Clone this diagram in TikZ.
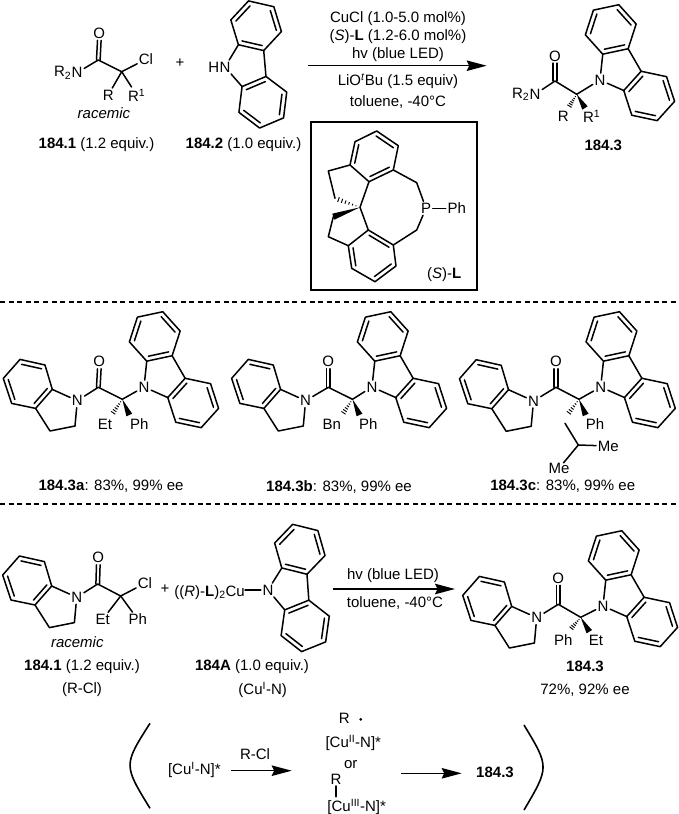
\documentclass[tikz,border=0pt]{standalone}
\usepackage{fontspec}
\setmainfont{Liberation Sans}
\usetikzlibrary{calc,arrows.meta}
\tikzset{
bond/.style={line width=1.5pt,line cap=round,line join=round},
atom/.style={inner sep=1.6pt},
rxn/.style={line width=1.5pt,-{Stealth[length=20pt,width=10.5pt,inset=2.5pt]}},
sep/.style={line width=1.4pt,dash pattern=on 5pt off 3.6pt},
every node/.style={font=\fontsize{15}{17}\selectfont,inner sep=0pt}
}
\newcommand{\dbl}[3]{\draw[bond] ($(#1)!.2!(#3)$) -- ($(#2)!.2!(#3)$);}
\newcommand{\wedgebond}[2]{\fill (#1) -- ($(#2)!3.2pt!90:(#1)$) -- ($(#2)!3.2pt!-90:(#1)$) -- cycle;}
\newcommand{\hashbond}[2]{\foreach \pos/\wid in {.16/.5,.3/.9,.44/1.3,.58/1.7,.72/2.1,.86/2.5,1/3}{\draw[line width=.95pt] ($(#1)!\pos!(#2)!\wid pt!90:(#2)$) -- ($(#1)!\pos!(#2)!\wid pt!-90:(#2)$);}}
\newcommand{\carbazole}[4]{
\begin{scope}[shift={(#1,#2)},rotate=#3]
\node[atom] (#4) at (0,0) {N};
\coordinate (za) at (15.3,-21);
\coordinate (zb) at (9.9,-46.4);
\coordinate (zc) at (29.2,-63.8);
\coordinate (zd) at (53.9,-55.8);
\coordinate (ze) at (59.3,-30.4);
\coordinate (zf) at (40,-13);
\coordinate (zg) at (40,13);
\coordinate (zh) at (59.3,30.4);
\coordinate (zi) at (53.9,55.8);
\coordinate (zj) at (29.2,63.8);
\coordinate (zk) at (9.9,46.4);
\coordinate (zl) at (15.3,21);
\coordinate (zu) at (34.6,-38.4);
\coordinate (zv) at (34.6,38.4);
\draw[bond] (#4) -- (za) -- (zb) -- (zc) -- (zd) -- (ze) -- (zf) -- (za);
\draw[bond] (zf) -- (zg) -- (zh) -- (zi) -- (zj) -- (zk) -- (zl) -- (#4);
\draw[bond] (zl) -- (zg);
\dbl{za}{zf}{zu} \dbl{zb}{zc}{zu} \dbl{zd}{ze}{zu}
\dbl{zl}{zg}{zv} \dbl{zh}{zi}{zv} \dbl{zj}{zk}{zv}
\end{scope}}
\newcommand{\indoline}[3]{
\begin{scope}[shift={(#1,#2)}]
\node[atom] (#3) at (0,0) {N};
\coordinate (ya) at (-25,-11.3);
\coordinate (yb) at (-32.3,-35.7);
\coordinate (yc) at (-57.3,-41.3);
\coordinate (yd) at (-74,-22.3);
\coordinate (ye) at (-65.7,2.7);
\coordinate (yf) at (-41.7,7.7);
\coordinate (yg) at (-27.3,30.3);
\coordinate (yh) at (-2.3,25.3);
\coordinate (yu) at (-49.3,-16.7);
\draw[bond] (#3) -- (ya) -- (yb) -- (yc) -- (yd) -- (ye) -- (yf) -- (ya);
\draw[bond] (yf) -- (yg) -- (yh) -- (#3);
\dbl{ya}{yf}{yu} \dbl{yb}{yc}{yu} \dbl{yd}{ye}{yu}
\end{scope}}
\begin{document}
\begin{tikzpicture}[x=1pt,y=-1pt]
\useasboundingbox (0,0) rectangle (678,814);
\draw[sep] (0,302) -- (678,302);
\draw[sep] (0,504) -- (678,504);

\node[atom] (n1) at (77,72.7) {N};
\node[anchor=east,xshift=1.6pt] (r1) at (n1.west) {R\textsubscript{2}};
\coordinate (co1) at (98.3,60);
\coordinate (ca1) at (121.7,71.7);
\node[atom] (o1) at (99.3,33.3) {O};
\node[atom] (cl1) at (146,59.3) {Cl};
\node[atom] (ra1) at (108.3,95) {R};
\node[atom] (rb1) at (136.7,95) {R\textsuperscript{1}};
\draw[bond] (n1) -- (co1) -- (ca1) -- (cl1);
\draw[bond] ($(o1.south)+(-1.8,0)$) -- ($(co1)+(-1.8,0)$);
\draw[bond] ($(o1.south)+(1.8,0)$) -- ($(co1)+(1.8,0)$);
\draw[bond] (ca1) -- (ra1);
\draw[bond] (ca1) -- (rb1);
\node (rac1) at (104,113.5) {\textit{racemic}};
\node (cap1) at (96.5,145) {\textbf{184.1} (1.2 equiv.)};
\node (plus1) at (180,63) {+};
\carbazole{225}{67}{5}{n2}
\node[anchor=east,xshift=1.6pt] (h2) at (n2.west) {H};
\node (cap2) at (243.5,145) {\textbf{184.2} (1.0 equiv.)};

\coordinate (ar1) at (308,65.7);
\coordinate (ar2) at (486.7,65.7);
\draw[rxn] (ar1) -- (ar2);
\node (t1) at (398,19) {CuCl (1.0-5.0 mol\%)};
\node (t2) at (398,36.7) {(\textit{S})-\textbf{L} (1.2-6.0 mol\%)};
\node (t3) at (398,55) {hv (blue LED)};
\node (t4) at (398,81) {LiO\textsuperscript{\textit{t}}Bu (1.5 equiv)};
\node (t5) at (398,101.7) {toluene, -40°C};

\carbazole{600}{80}{30}{n3}
\node[atom] (n4) at (535,94.3) {N};
\node[anchor=east,xshift=1.6pt] (r4) at (n4.west) {R\textsubscript{2}};
\coordinate (co4) at (555,81);
\coordinate (ca4) at (576.7,94.3);
\coordinate (wa4) at (585,108);
\coordinate (ha4) at (568.3,108);
\node[atom] (o4) at (555,56) {O};
\node[atom] (ra4) at (563.3,116.7) {R};
\node[atom] (rb4) at (591.7,116.7) {R\textsuperscript{1}};
\draw[bond] (n4) -- (co4) -- (ca4) -- (n3);
\draw[bond] ($(o4.south)+(-1.8,0)$) -- ($(co4)+(-1.8,0)$);
\draw[bond] ($(o4.south)+(1.8,0)$) -- ($(co4)+(1.8,0)$);
\wedgebond{ca4}{wa4}
\hashbond{ca4}{ha4}
\node (cap4) at (603.3,145.7) {\textbf{184.3}};

\draw[line width=1.6pt] (311,121.7) rectangle (476.7,290);
\coordinate (u1) at (350,165);
\coordinate (u2) at (355,141.7);
\coordinate (u3) at (376.7,131);
\coordinate (u4) at (398.3,145.7);
\coordinate (u5) at (393.3,170);
\coordinate (u6) at (369,181.7);
\coordinate (uc) at (373.7,155.9);
\coordinate (f1) at (328.3,171);
\coordinate (f2) at (335,198.3);
\coordinate (sp) at (360,207.3);
\coordinate (m1) at (416.7,182.7);
\coordinate (m2) at (416.7,230);
\coordinate (l1) at (393.3,245);
\coordinate (l2) at (368.3,230);
\coordinate (l3) at (348.3,245.7);
\coordinate (l4) at (351.7,268.3);
\coordinate (l5) at (375,281.7);
\coordinate (l6) at (396,266);
\coordinate (lc) at (372.1,256.1);
\coordinate (g1) at (333.3,216.7);
\coordinate (g2) at (328.3,236.7);
\node[atom] (p) at (426,208.3) {P};
\node[atom] (ph) at (456.7,208.3) {Ph};
\draw[bond] (u1) -- (u2) -- (u3) -- (u4) -- (u5) -- (u6) -- (u1);
\draw[bond] (f2) -- (f1) -- (u1);
\draw[bond] (u6) -- (sp) -- (l2);
\draw[bond] (u5) -- (m1) -- (p) -- (m2) -- (l1);
\draw[bond] (p) -- (ph);
\draw[bond] (l1) -- (l2) -- (l3) -- (l4) -- (l5) -- (l6) -- (l1);
\draw[bond] (g1) -- (g2) -- (l3);
\dbl{u6}{u5}{uc} \dbl{u1}{u2}{uc} \dbl{u3}{u4}{uc}
\dbl{l2}{l1}{lc} \dbl{l3}{l4}{lc} \dbl{l5}{l6}{lc}
\wedgebond{sp}{g1}
\hashbond{sp}{f2}
\node (lig) at (444.3,275) {(\textit{S})-\textbf{L}};

\indoline{77.3}{400.7}{n5}
\carbazole{144}{387}{30}{n6}
\coordinate (co5) at (98.3,387.3);
\coordinate (ca5) at (122.3,399.3);
\coordinate (wa5) at (129.3,415);
\coordinate (ha5) at (111.7,415);
\node[atom] (o5) at (99.3,361.7) {O};
\draw[bond] (n5) -- (co5) -- (ca5) -- (n6);
\draw[bond] ($(o5.south)+(-1.8,0)$) -- ($(co5)+(-1.8,0)$);
\draw[bond] ($(o5.south)+(1.8,0)$) -- ($(co5)+(1.8,0)$);
\wedgebond{ca5}{wa5}
\hashbond{ca5}{ha5}
\node (et5) at (105,424) {Et};
\node (ph5) at (139.3,424) {Ph};
\node (cap5) at (111,486.7) {\textbf{184.3a}: 83\%, 99\% ee};

\indoline{305.6}{400.7}{n7}
\carbazole{372}{387}{30}{n8}
\coordinate (co7) at (328.3,387.3);
\coordinate (ca7) at (352.5,399.3);
\coordinate (wa7) at (359.5,415);
\coordinate (ha7) at (342,415);
\node[atom] (o7) at (328.3,361.7) {O};
\draw[bond] (n7) -- (co7) -- (ca7) -- (n8);
\draw[bond] ($(o7.south)+(-1.8,0)$) -- ($(co7)+(-1.8,0)$);
\draw[bond] ($(o7.south)+(1.8,0)$) -- ($(co7)+(1.8,0)$);
\wedgebond{ca7}{wa7}
\hashbond{ca7}{ha7}
\node (bn7) at (331.7,424) {Bn};
\node (ph7) at (368.3,424) {Ph};
\node (cap7) at (339,486.7) {\textbf{184.3b}: 83\%, 99\% ee};

\indoline{533.5}{401}{n9}
\carbazole{600.7}{387}{30}{n10}
\coordinate (co9) at (556,387.3);
\coordinate (ca9) at (579,399.3);
\coordinate (wa9) at (585.7,415);
\coordinate (ha9) at (567.3,415);
\coordinate (ch2) at (565,423.3);
\coordinate (ch9) at (578.3,445);
\node[atom] (o9) at (556,361.7) {O};
\node[atom] (me1) at (608.3,446) {Me};
\node[atom,inner sep=0pt] (me2) at (559,468.3) {Me};
\draw[bond] (n9) -- (co9) -- (ca9) -- (n10);
\draw[bond] ($(o9.south)+(-1.8,0)$) -- ($(co9)+(-1.8,0)$);
\draw[bond] ($(o9.south)+(1.8,0)$) -- ($(co9)+(1.8,0)$);
\wedgebond{ca9}{wa9}
\hashbond{ca9}{ha9}
\draw[bond] (ch2) -- (ch9) -- (me1);
\draw[bond] (ch9) -- (me2);
\node (ph9) at (595,424) {Ph};
\node (cap9) at (562.7,486.7) {\textbf{184.3c}: 83\%, 99\% ee};

\indoline{76.7}{597.3}{n11}
\coordinate (co11) at (97.7,584);
\coordinate (ca11) at (120.7,596);
\node[atom] (o11) at (98.3,557.7) {O};
\node[atom] (cl11) at (145,583.3) {Cl};
\node[atom] (et11) at (102.7,619.3) {Et};
\node[atom] (ph11) at (137.7,619.3) {Ph};
\draw[bond] (n11) -- (co11) -- (ca11) -- (cl11);
\draw[bond] ($(o11.south)+(-1.8,0)$) -- ($(co11)+(-1.8,0)$);
\draw[bond] ($(o11.south)+(1.8,0)$) -- ($(co11)+(1.8,0)$);
\draw[bond] (ca11) -- (et11);
\draw[bond] (ca11) -- (ph11);
\node (rac11) at (77.3,641.7) {\textit{racemic}};
\node (cap11) at (82,666.7) {\textbf{184.1} (1.2 equiv.)};
\node (rcl) at (82,689.5) {(R-Cl)};
\node (plus11) at (165,589) {+};
\carbazole{268}{590}{4}{n12}
\node[anchor=east] (cu) at (245,592.7) {((\textit{R})-\textbf{L})\textsubscript{2}Cu};
\draw[bond] (cu.east |- n12) -- (n12);
\node (cap12) at (252,667) {\textbf{184A} (1.0 equiv.)};
\node (cun) at (262.7,690) {(Cu\textsuperscript{I}-N)};

\coordinate (ar3) at (333,589);
\coordinate (ar4) at (455,589);
\draw[rxn] (ar3) -- (ar4);
\node (t6) at (393,576) {hv (blue LED)};
\node (t7) at (395,603) {toluene, -40°C};

\indoline{536.7}{617.7}{n13}
\carbazole{603}{606}{30}{n14}
\coordinate (co13) at (558.3,604.3);
\coordinate (ca13) at (580.7,617.3);
\coordinate (wa13) at (589.3,631.7);
\coordinate (ha13) at (570,630);
\node[atom] (o13) at (558.3,578.3) {O};
\draw[bond] (n13) -- (co13) -- (ca13) -- (n14);
\draw[bond] ($(o13.south)+(-1.8,0)$) -- ($(co13)+(-1.8,0)$);
\draw[bond] ($(o13.south)+(1.8,0)$) -- ($(co13)+(1.8,0)$);
\wedgebond{ca13}{wa13}
\hashbond{ca13}{ha13}
\node (ph13) at (563.3,640) {Ph};
\node (et13) at (596,640) {Et};
\node (cap13) at (585,666.7) {\textbf{184.3}};
\node (yld) at (585,690) {72\%, 92\% ee};

\draw[line width=1.6pt] (150,723.3) .. controls (123.4,765) .. (150,808.3);
\draw[line width=1.6pt] (524,725) .. controls (549.4,767) .. (524,810);
\node (cu1) at (194.3,770) {[Cu\textsuperscript{I}-N]*};
\node (rcl2) at (255,754) {R-Cl};
\coordinate (ar5) at (231,770.7);
\coordinate (ar6) at (291.7,770.7);
\draw[rxn] (ar5) -- (ar6);
\node[atom] (r2) at (344.3,718.3) {R};
\fill (360.7,719.3) circle (1.5pt);
\node (cu2) at (353.3,742.7) {[Cu\textsuperscript{II}-N]*};
\node (or1) at (350.7,764.3) {or};
\node[atom] (r3) at (336,779) {R};
\node (cu3) at (356.7,806.7) {[Cu\textsuperscript{III}-N]*};
\draw[bond] (r3) -- (336,796.7);
\coordinate (ar7) at (401,773.3);
\coordinate (ar8) at (461.7,773.3);
\draw[rxn] (ar7) -- (ar8);
\node (cap14) at (495,772.7) {\textbf{184.3}};
\end{tikzpicture}
\end{document}
